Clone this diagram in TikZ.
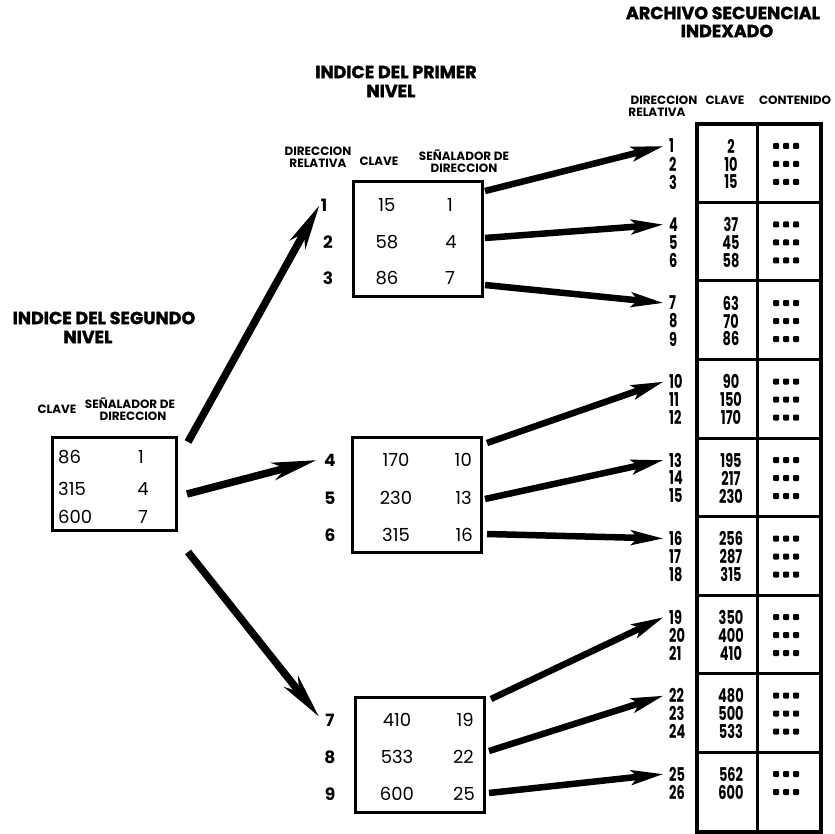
\documentclass[tikz,border=0pt]{standalone}
\usepackage{fontspec}
\setmainfont{Poppins}
\newfontfamily\condfont[FakeStretch=0.68]{Poppins}
\newfontfamily\heavyfont[BoldFeatures={FakeBold=1.6}]{Poppins}
\usetikzlibrary{arrows.meta}
\begin{document}
\begin{tikzpicture}[x=1pt,y=-1pt,
  titletxt/.style={font=\heavyfont\bfseries\fontsize{17.5}{17.5}\selectfont, inner sep=0pt, align=center},
  hdr/.style={font=\bfseries\fontsize{12}{12}\selectfont, inner sep=0pt, align=center},
  lbl/.style={font=\bfseries\fontsize{17}{17}\selectfont, inner sep=0pt},
  val/.style={font=\fontsize{18}{18}\selectfont, inner sep=0pt},
  anum/.style={font=\condfont\bfseries\fontsize{19}{19}\selectfont, inner sep=0pt, anchor=west},
  aval/.style={font=\condfont\bfseries\fontsize{19}{19}\selectfont, inner sep=0pt},
  frame/.style={draw, line width=3pt, inner sep=0pt, minimum width=129pt, minimum height=115pt},
  dotsq/.style={fill=black, rounded corners=1pt, minimum size=6pt, inner sep=0pt},
  arr/.style={line width=6.5pt, -{Stealth[length=32pt,width=14pt,inset=6pt]}},
  bigarr/.style={line width=7.5pt, -{Stealth[length=44pt,width=17pt,inset=12pt]}}
]
\useasboundingbox (0,0) rectangle (835,834);
\fill[white] (0,0) rectangle (835,834);

% ---------- titles ----------
\node[titletxt] (t1a) at (723,13) {ARCHIVO SECUENCIAL};
\node[titletxt] (t1b) at (727,31) {INDEXADO};
\node[titletxt] (t2a) at (396,72) {INDICE DEL PRIMER};
\node[titletxt] (t2b) at (391,91) {NIVEL};
\node[titletxt] (t3a) at (104,318) {INDICE DEL SEGUNDO};
\node[titletxt] (t3b) at (88,337) {NIVEL};

% ---------- second level index ----------
\node[hdr] (h3a) at (57,409) {CLAVE};
\node[hdr] (h3b) at (130,403) {SEÑALADOR DE};
\node[hdr] (h3c) at (133,416) {DIRECCION};
\node[frame, minimum width=124pt, minimum height=93pt] (boxL) at (114,483.5) {};
\node[val, anchor=west] (lk1) at (58,457) {86};
\node[val, anchor=west] (lk2) at (58,489) {315};
\node[val, anchor=west] (lk3) at (58,517) {600};
\node[val] (lp1) at (141,457) {1};
\node[val] (lp2) at (143,489) {4};
\node[val] (lp3) at (143,517) {7};

% ---------- first level index ----------
\node[hdr] (h2a) at (318,157) {DIRECCION\\RELATIVA};
\node[hdr] (h2b) at (379,161) {CLAVE};
\node[hdr] (h2c) at (464,161) {SEÑALADOR DE\\DIRECCION};

\node[frame] (boxA) at (418,239.5) {};
\node[frame] (boxB) at (417,495) {};
\node[frame] (boxC) at (419.5,754.5) {};

\node[lbl] (m1) at (324,205) {1};
\node[lbl] (m2) at (328,242) {2};
\node[lbl] (m3) at (328,278) {3};
\node[lbl] (m4) at (330,460) {4};
\node[lbl] (m5) at (330,498) {5};
\node[lbl] (m6) at (330,535) {6};
\node[lbl] (m7) at (330,720) {7};
\node[lbl] (m8) at (330,757) {8};
\node[lbl] (m9) at (330,794) {9};

\node[val] (ak1) at (387,205) {15};
\node[val] (ak2) at (387,242) {58};
\node[val] (ak3) at (387,278) {86};
\node[val] (ap1) at (450,205) {1};
\node[val] (ap2) at (451,242) {4};
\node[val] (ap3) at (450,278) {7};

\node[val] (bk1) at (396,460) {170};
\node[val] (bk2) at (396,498) {230};
\node[val] (bk3) at (396,535) {315};
\node[val, anchor=east] (bp1) at (472,460) {10};
\node[val, anchor=east] (bp2) at (472,498) {13};
\node[val, anchor=east] (bp3) at (473,535) {16};

\node[val] (ck1) at (397,720) {410};
\node[val] (ck2) at (397,757) {533};
\node[val] (ck3) at (397,794) {600};
\node[val, anchor=east] (cp1) at (474,720) {19};
\node[val, anchor=east] (cp2) at (474,757) {22};
\node[val, anchor=east] (cp3) at (475,794) {25};

% ---------- indexed sequential file ----------
\node[hdr] (h1a) at (664,100) {DIRECCION};
\node[hdr] (h1b) at (657,112) {RELATIVA};
\node[hdr] (h1c) at (725,100) {CLAVE};
\node[hdr] (h1d) at (795,100) {CONTENIDO};

\draw[line width=3.5pt] (697,124) rectangle (821,832);
\draw[line width=3pt] (757,124) -- (757,832);
\foreach \g in {1,...,8}{
  \draw[line width=3pt] (697,124+78.5*\g) -- (821,124+78.5*\g);
}

\foreach \n/\k in {1/2,2/10,3/15,4/37,5/45,6/58,7/63,8/70,9/86,
  10/90,11/150,12/170,13/195,14/217,15/230,16/256,17/287,18/315,
  19/350,20/400,21/410,22/480,23/500,24/533,25/562,26/600}{
  \pgfmathtruncatemacro{\grp}{(\n-1)/3}
  \pgfmathtruncatemacro{\rw}{\n-1-3*\grp}
  \pgfmathsetmacro{\yy}{124+78.5*\grp+22+18*\rw}
  \node[anum] (n\n) at (669,\yy) {\n};
  \node[aval] (k\n) at (731,\yy) {\k};
  \node[dotsq] (da\n) at (776,\yy) {};
  \node[dotsq] (db\n) at (786,\yy) {};
  \node[dotsq] (dc\n) at (796,\yy) {};
}

% ---------- connectors ----------
\coordinate (sL1) at (188,442);
\coordinate (sL2) at (187,494);
\coordinate (sL3) at (188,552);
\draw[bigarr] (sL1) -- ([xshift=-1pt]m1.west);
\draw[bigarr] (sL2) -- ([xshift=-7pt]m4.west);
\draw[bigarr] (sL3) -- ([xshift=-6pt,yshift=3pt]m7.west);

\coordinate (sA1) at (485,191);
\coordinate (sA2) at (485,238);
\coordinate (sA3) at (485,285);
\coordinate (sB1) at (487,443);
\coordinate (sB2) at (485,499);
\coordinate (sB3) at (487,534);
\coordinate (sC1) at (491,699);
\coordinate (sC2) at (489,751);
\coordinate (sC3) at (489,793);
\draw[arr] (sA1) -- ([xshift=-5pt]n1.west);
\draw[arr] (sA2) -- ([xshift=-5pt]n4.west);
\draw[arr] (sA3) -- ([xshift=-5pt]n7.west);
\draw[arr] (sB1) -- ([xshift=-5pt]n10.west);
\draw[arr] (sB2) -- ([xshift=-5pt]n13.west);
\draw[arr] (sB3) -- ([xshift=-5pt]n16.west);
\draw[arr] (sC1) -- ([xshift=-5pt]n19.west);
\draw[arr] (sC2) -- ([xshift=-5pt]n22.west);
\draw[arr] (sC3) -- ([xshift=-5pt]n25.west);
\end{tikzpicture}
\end{document}
